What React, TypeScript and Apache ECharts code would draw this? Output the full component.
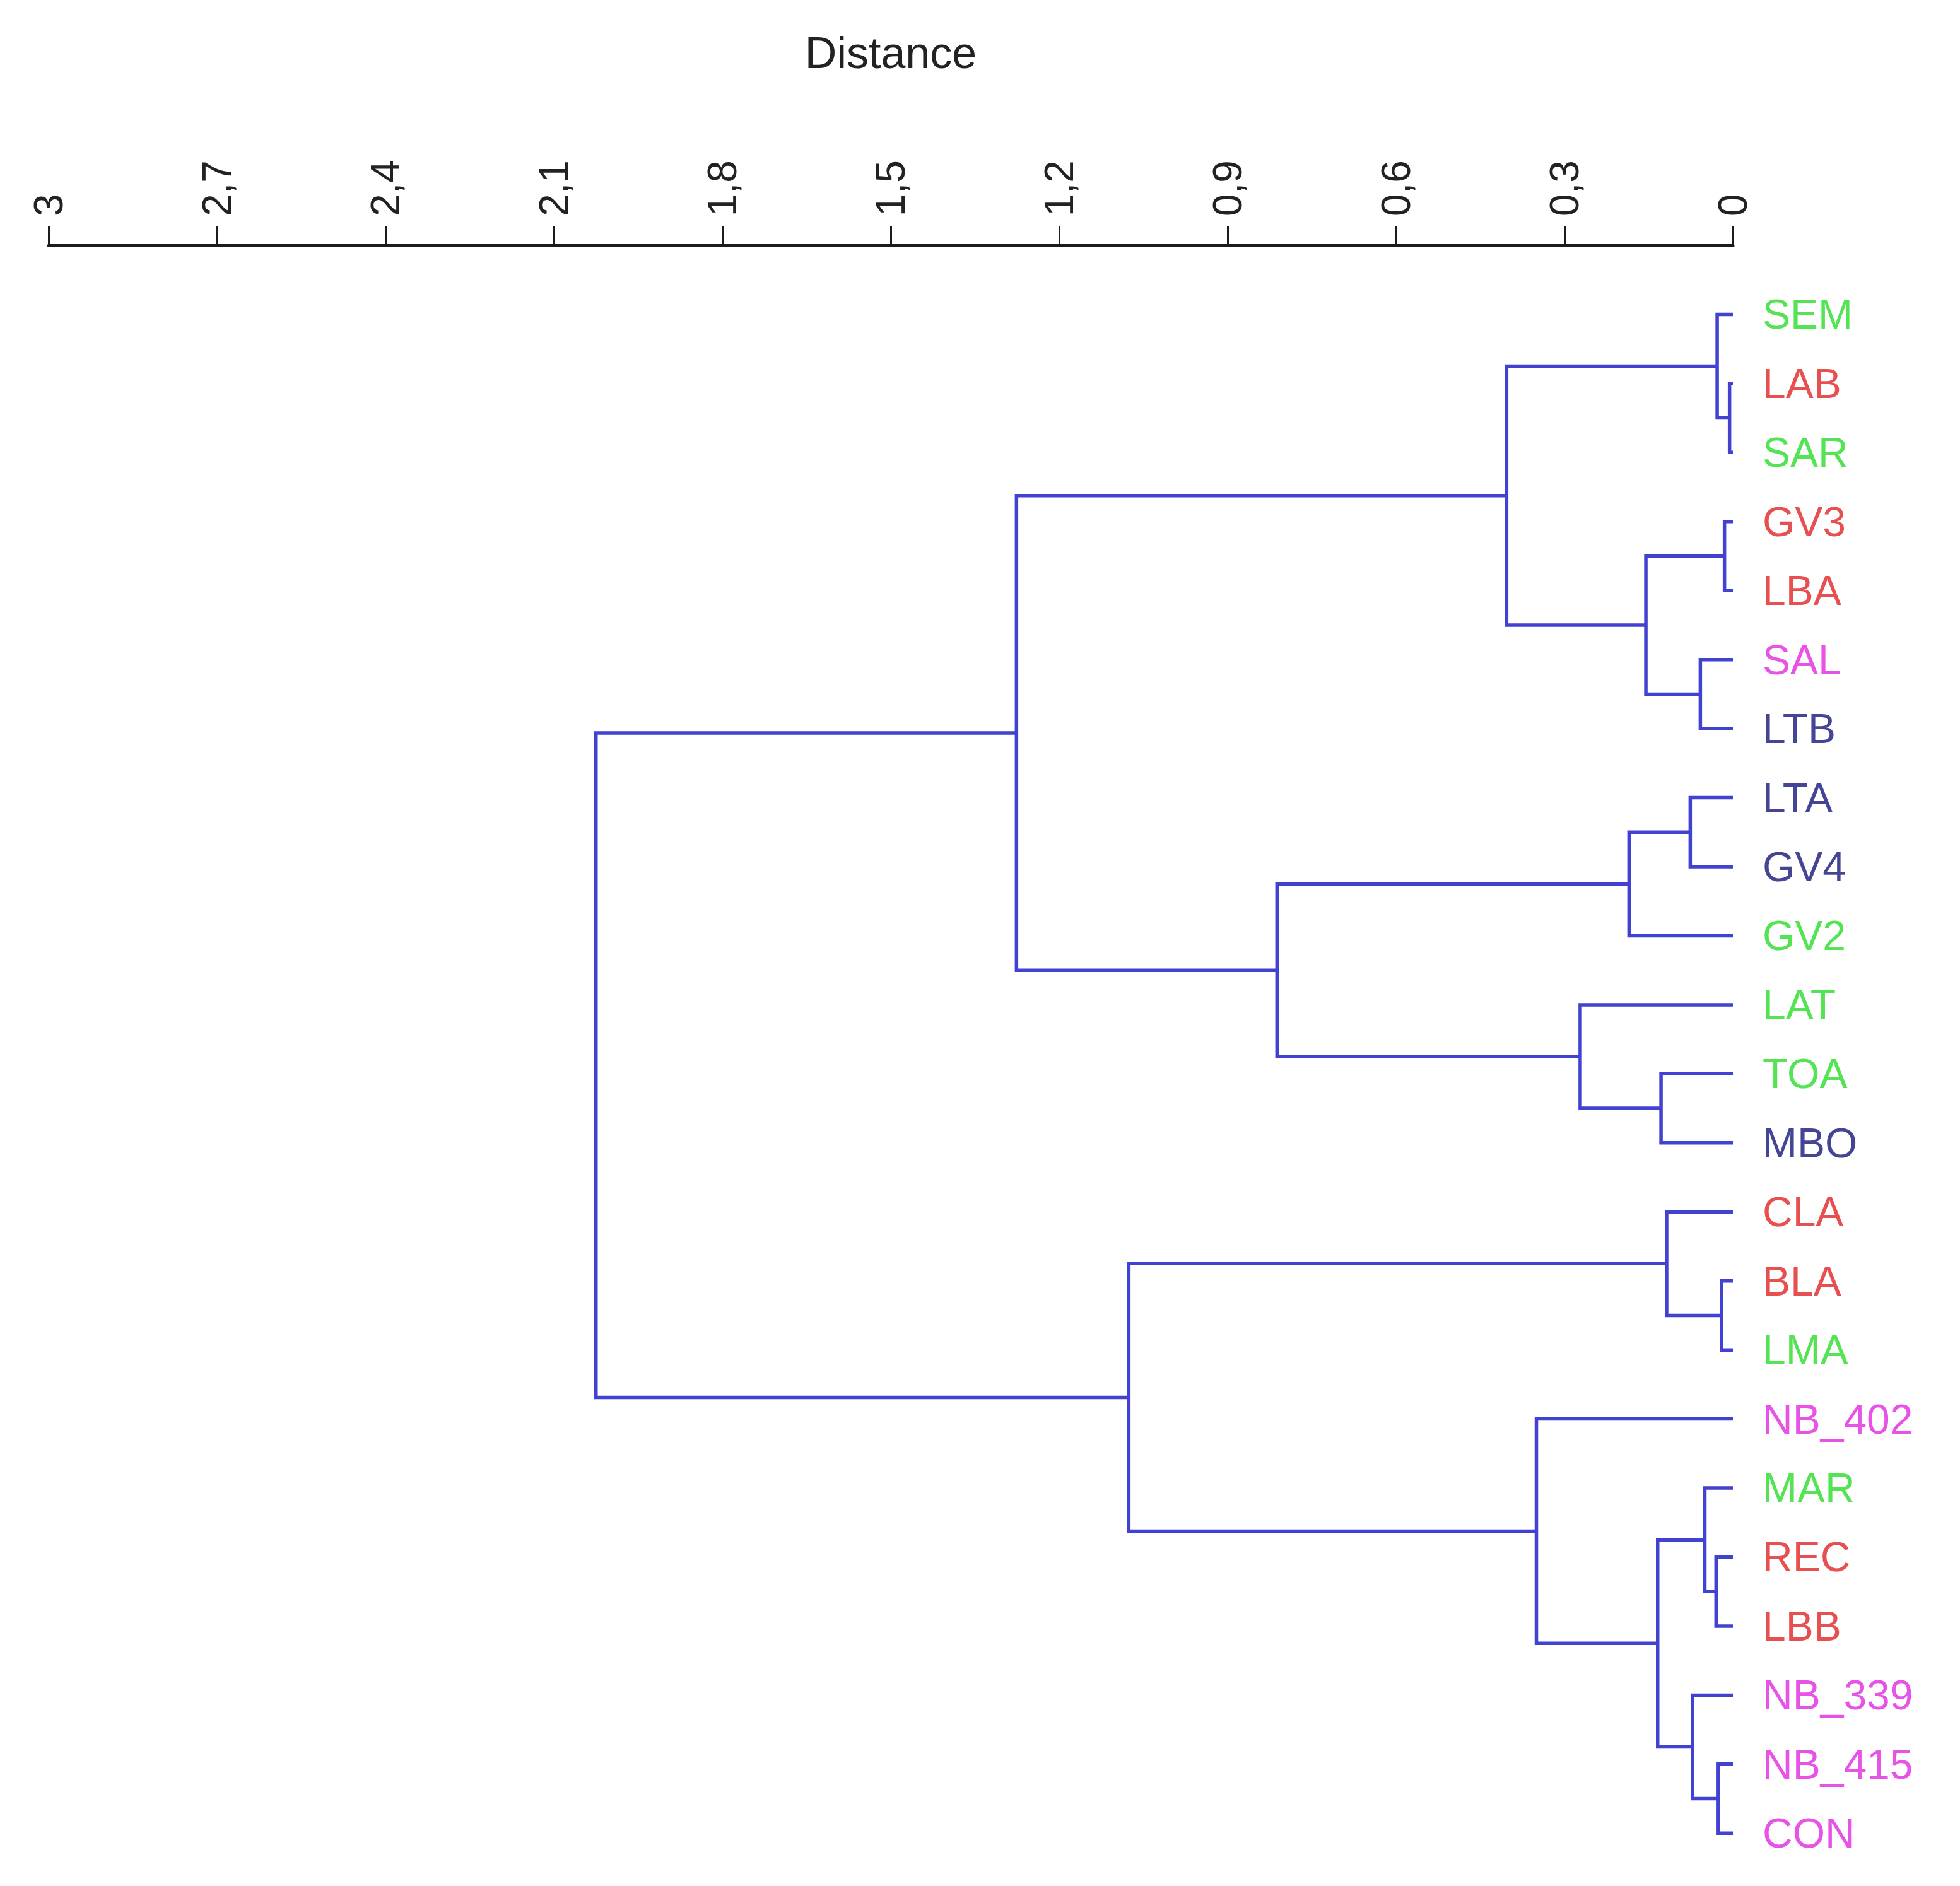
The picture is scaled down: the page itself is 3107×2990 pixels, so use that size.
import React, { useEffect, useRef } from "react";
import * as echarts from "echarts";

// Leaves (top to bottom) and their label colours
const leafNames = [
  "SEM", "LAB", "SAR", "GV3", "LBA", "SAL", "LTB", "LTA", "GV4", "GV2", "LAT", "TOA",
  "MBO", "CLA", "BLA", "LMA", "NB_402", "MAR", "REC", "LBB", "NB_339", "NB_415", "CON",
];
const GREEN = "#28dc28";
const RED = "#e02424";
const MAGENTA = "#e028e0";
const NAVY = "#16167c";
const leafColors = [
  GREEN, RED, GREEN, RED, RED, MAGENTA, NAVY, NAVY, NAVY, GREEN, GREEN, GREEN,
  NAVY, RED, RED, GREEN, MAGENTA, GREEN, RED, RED, MAGENTA, MAGENTA, MAGENTA,
];

// Merges: "#k" refers to merge k
const mergeLeft = [
  "LAB", "SEM", "GV3", "SAL", "#2", "#1", "LTA", "#6", "TOA", "LAT", "#7",
  "#5", "BLA", "CLA", "REC", "MAR", "NB_415", "NB_339", "#15", "NB_402", "#13", "#11",
];
const mergeRight = [
  "SAR", "#0", "LBA", "LTB", "#3", "#4", "GV4", "GV2", "MBO", "#8", "#9",
  "#10", "LMA", "#12", "LBB", "#14", "CON", "#16", "#17", "#18", "#19", "#20",
];
const mergeHeight = [
  0.006, 0.028, 0.015, 0.058, 0.155, 0.403, 0.076, 0.185, 0.128, 0.272, 0.812,
  1.276, 0.02, 0.118, 0.03, 0.05, 0.026, 0.072, 0.134, 0.35, 1.076, 2.025,
];

const xTickLabels = ["0", "0,3", "0,6", "0,9", "1,2", "1,5", "1,8", "2,1", "2,4", "2,7", "3"];
const axisTitle = "Distance";

const LINE_COLOR = "#4242d2";

function buildSegments() {
  const mergeY: number[] = [];
  const resolve = (ref: string): [number, number] => {
    if (ref.startsWith("#")) {
      const k = parseInt(ref.slice(1), 10);
      return [mergeHeight[k], mergeY[k]];
    }
    return [0, leafNames.indexOf(ref)];
  };
  const segs: { coords: number[][] }[] = [];
  for (let k = 0; k < mergeHeight.length; k++) {
    const [ha, ya] = resolve(mergeLeft[k]);
    const [hb, yb] = resolve(mergeRight[k]);
    const h = mergeHeight[k];
    mergeY[k] = (ya + yb) / 2;
    segs.push({ coords: [[ha, ya], [h, ya], [h, yb], [hb, yb]] });
  }
  return segs;
}

export default function App() {
  const ref = useRef<HTMLDivElement>(null);
  useEffect(() => {
    document.body.style.margin = "0";
    if (!ref.current) return;
    const chart = echarts.init(ref.current, undefined, { renderer: "svg" });
    const font = "'Liberation Sans', Arial, sans-serif";
    chart.setOption({
      animation: false,
      backgroundColor: "#ffffff",
      grid: { left: 77, right: 360, top: 389, bottom: 29, containLabel: false },
      xAxis: {
        type: "value",
        position: "top",
        inverse: true,
        min: 0,
        max: 3,
        interval: 0.3,
        name: axisTitle,
        nameLocation: "middle",
        nameGap: 270,
        nameTextStyle: { fontSize: 70, color: "#222", fontFamily: font },
        axisLine: { show: true, onZero: false, lineStyle: { color: "#1c1c1c", width: 5 } },
        axisTick: { show: true, inside: false, length: 31, lineStyle: { color: "#1c1c1c", width: 3 } },
        axisLabel: {
          rotate: -90,
          margin: 46,
          fontSize: 64,
          color: "#222",
          fontFamily: font,
          formatter: (v: number) => xTickLabels[Math.round(v / 0.3)] ?? "",
        },
        splitLine: { show: false },
      },
      yAxis: {
        type: "value",
        inverse: true,
        min: -1,
        max: 22.5,
        show: false,
      },
      series: [
        {
          type: "lines",
          coordinateSystem: "cartesian2d",
          polyline: true,
          silent: true,
          lineStyle: { color: LINE_COLOR, width: 5.5, opacity: 1 },
          data: buildSegments(),
          z: 2,
        },
        {
          type: "scatter",
          symbolSize: 0,
          itemStyle: { color: "rgba(0,0,0,0)" },
          silent: true,
          data: leafNames.map((n, i) => ({
            name: n,
            value: [0, i],
            label: { color: leafColors[i] },
          })),
          label: {
            show: true,
            position: "right",
            distance: 47,
            fontSize: 66,
            fontFamily: font,
            formatter: (p: any) => p.name,
          },
          z: 3,
        },
      ],
    });
    return () => chart.dispose();
  }, []);
  return <div ref={ref} style={{ width: 3107, height: 2990, position: "absolute", left: 0, top: 0 }} />;
}
